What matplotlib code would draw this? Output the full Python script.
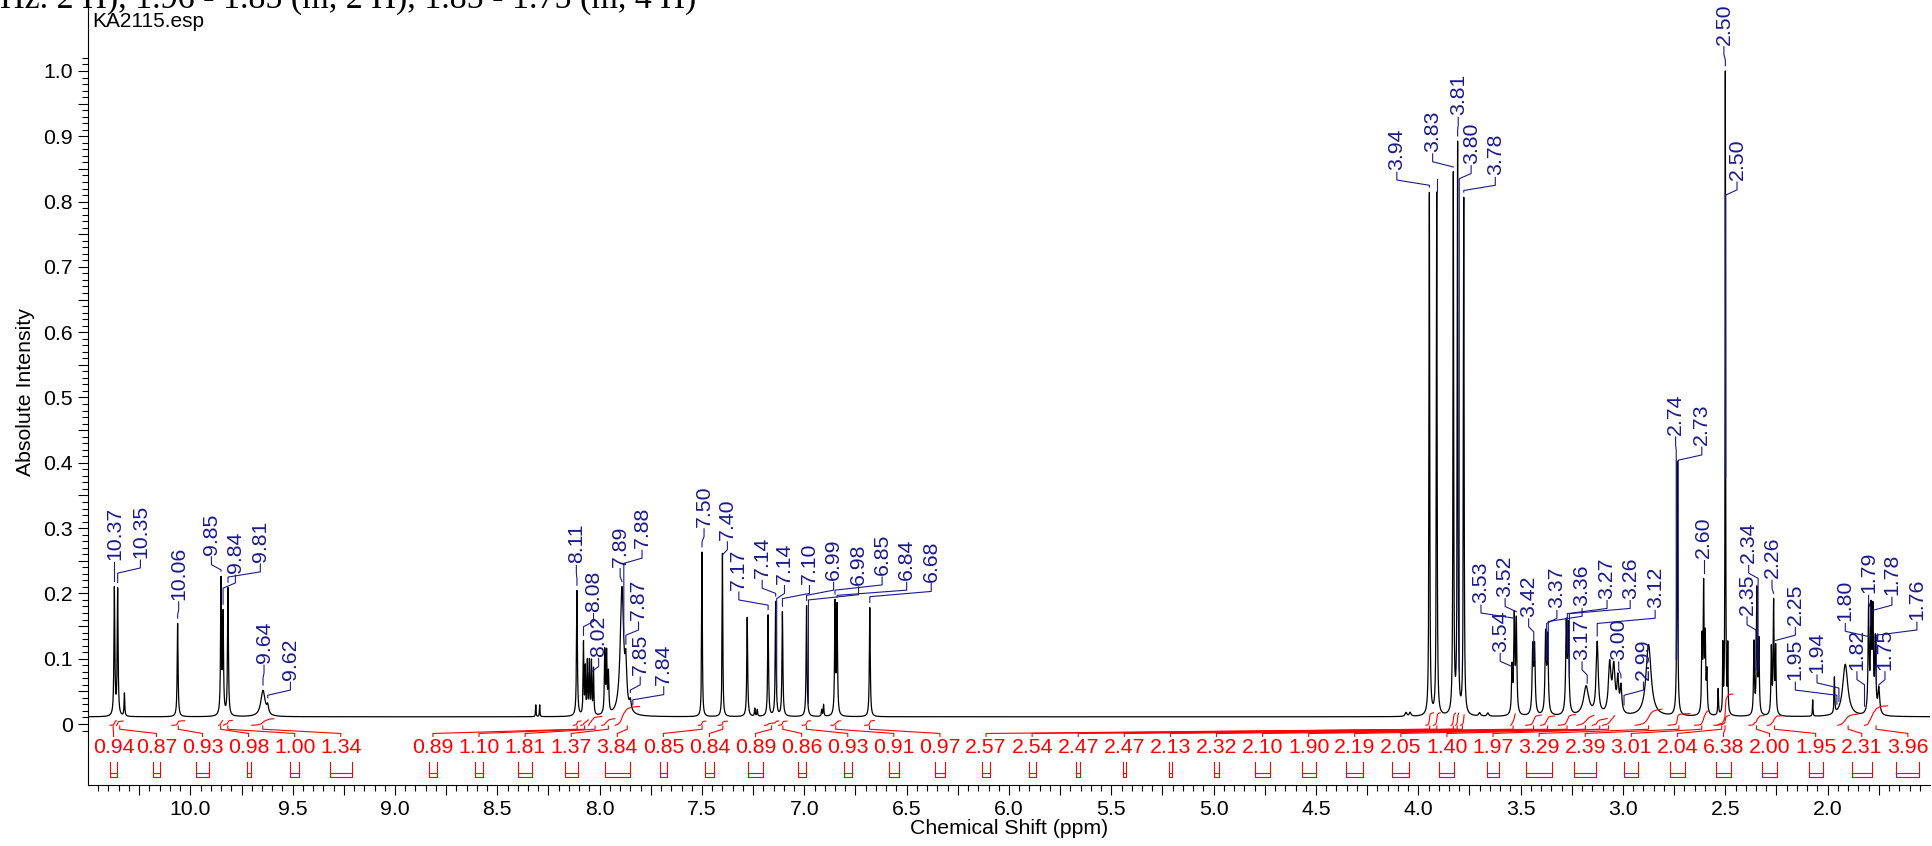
import numpy as np
import matplotlib.pyplot as plt
from matplotlib.ticker import FixedLocator, FuncFormatter

plt.rcParams['font.family'] = ['Liberation Sans', 'DejaVu Sans']

BLUE = '#1a1a8e'
RED = '#ff0000'
FS = 15.3

# spectrum peaks: position (ppm), height above baseline, width (ppm)
peak_ppm = [10.371, 10.355, 10.322, 10.062, 9.850, 9.840, 9.816, 9.645, 9.622,
            8.312, 8.293, 8.111, 8.079, 8.070, 8.060, 8.050, 8.040, 8.030,
            7.975, 7.966, 7.957, 7.891, 7.872, 7.850,
            7.500, 7.400, 7.279, 7.242, 7.230, 7.177, 7.140, 7.107, 6.989,
            6.915, 6.906, 6.850, 6.840, 6.680,
            4.060, 4.040, 3.700, 3.660,
            3.946, 3.910, 3.829, 3.808, 3.778,
            3.542, 3.531, 3.521, 3.441, 3.432, 3.378, 3.368, 3.277, 3.267,
            3.180, 3.126, 3.065, 3.045, 3.025, 3.010, 2.875, 2.735,
            2.614, 2.606, 2.598, 2.590, 2.535, 2.512, 2.500, 2.488,
            2.360, 2.346, 2.336, 2.275, 2.264, 2.254, 2.073, 1.967, 1.914,
            1.800, 1.788, 1.779, 1.767, 1.750]
peak_height = [0.195, 0.193, 0.035, 0.143, 0.205, 0.150, 0.195, 0.040, 0.012,
               0.018, 0.018, 0.192, 0.110, 0.070, 0.080, 0.080, 0.080, 0.070,
               0.095, 0.090, 0.060, 0.195, 0.060, 0.015,
               0.252, 0.250, 0.152, 0.012, 0.010, 0.155, 0.175, 0.160, 0.170,
               0.010, 0.018, 0.170, 0.165, 0.167,
               0.006, 0.006, 0.005, 0.005,
               0.800, 0.800, 0.825, 0.870, 0.790,
               0.070, 0.145, 0.140, 0.100, 0.100, 0.120, 0.115, 0.135, 0.130,
               0.045, 0.110, 0.075, 0.070, 0.050, 0.040, 0.110, 0.390,
               0.110, 0.190, 0.110, 0.060, 0.040, 0.100, 0.985, 0.100,
               0.110, 0.190, 0.110, 0.100, 0.170, 0.100, 0.025, 0.055, 0.080,
               0.160, 0.150, 0.150, 0.110, 0.040]
peak_fwhm = [0.005, 0.005, 0.004, 0.005, 0.005, 0.005, 0.005, 0.025, 0.010,
             0.003, 0.003, 0.005, 0.004, 0.004, 0.004, 0.004, 0.004, 0.004,
             0.005, 0.005, 0.005, 0.020, 0.010, 0.010,
             0.004, 0.004, 0.005, 0.004, 0.004, 0.005, 0.005, 0.005, 0.005,
             0.004, 0.004, 0.005, 0.005, 0.005,
             0.010, 0.010, 0.010, 0.010,
             0.004, 0.004, 0.004, 0.004, 0.004,
             0.006, 0.006, 0.006, 0.007, 0.007, 0.007, 0.007, 0.007, 0.007,
             0.030, 0.012, 0.015, 0.015, 0.010, 0.010, 0.030, 0.005,
             0.005, 0.005, 0.005, 0.005, 0.004, 0.003, 0.003, 0.003,
             0.005, 0.005, 0.005, 0.005, 0.005, 0.005, 0.003, 0.004, 0.030,
             0.006, 0.006, 0.006, 0.006, 0.010]
baseline_level = 0.011

# peak labels: text, peak ppm, label ppm, label bottom (intensity)
label_text = ['10.37', '10.35', '10.06', '9.85', '9.84', '9.81', '9.64', '9.62',
              '8.11', '8.08', '8.02', '7.89', '7.88', '7.87', '7.85', '7.84',
              '7.50', '7.40', '7.17', '7.14', '7.14', '7.10', '6.99', '6.98',
              '6.85', '6.84', '6.68',
              '3.94', '', '3.83', '3.81', '3.80', '3.78',
              '3.54', '3.53', '3.52', '3.42', '3.37', '3.36', '3.17', '3.27',
              '3.26', '3.00', '3.12', '2.99', '2.74', '2.73', '2.60', '2.50',
              '2.50', '2.35', '2.34', '2.26', '2.25', '1.95', '1.94', '1.80',
              '1.82', '1.79', '1.78', '1.76', '1.75']
label_peak = [10.371, 10.355, 10.062, 9.850, 9.840, 9.816, 9.645, 9.622,
              8.111, 8.079, 8.040, 7.891, 7.882, 7.872, 7.850, 7.838,
              7.500, 7.400, 7.177, 7.140, 7.135, 7.107, 6.989, 6.980,
              6.850, 6.840, 6.680,
              3.946, 3.910, 3.829, 3.808, 3.800, 3.778,
              3.542, 3.531, 3.521, 3.436, 3.373, 3.365, 3.175, 3.272,
              3.262, 3.010, 3.126, 2.995, 2.740, 2.730, 2.606, 2.500,
              2.498, 2.350, 2.340, 2.264, 2.254, 1.955, 1.945, 1.800,
              1.820, 1.790, 1.780, 1.762, 1.750]
label_pos = [10.371, 10.244, 10.057, 9.897, 9.780, 9.658, 9.640, 9.511,
             8.114, 8.030, 8.005, 7.900, 7.793, 7.810, 7.802, 7.687,
             7.490, 7.376, 7.320, 7.206, 7.097, 6.975, 6.857, 6.735,
             6.620, 6.500, 6.380,
             4.105, 3.910, 3.930, 3.805, 3.742, 3.624,
             3.600, 3.694, 3.576, 3.461, 3.323, 3.200, 3.200, 3.078,
             2.965, 3.021, 2.843, 2.900, 2.743, 2.615, 2.606, 2.507,
             2.443, 2.394, 2.386, 2.272, 2.158, 2.158, 2.052, 1.914,
             1.857, 1.800, 1.686, 1.564, 1.720]
label_bottom = [0.251, 0.254, 0.190, 0.259, 0.231, 0.248, 0.093, 0.067,
                0.246, 0.172, 0.103, 0.241, 0.269, 0.159, 0.075, 0.060,
                0.302, 0.282, 0.205, 0.223, 0.215, 0.215, 0.220, 0.213,
                0.228, 0.220, 0.218,
                0.848, 0.838, 0.876, 0.932, 0.858, 0.840,
                0.111, 0.185, 0.195, 0.164, 0.177, 0.180, 0.098, 0.192,
                0.192, 0.098, 0.177, 0.067, 0.4425, 0.427, 0.254, 1.040,
                0.833, 0.167, 0.246, 0.223, 0.151, 0.067, 0.078, 0.157,
                0.083, 0.200, 0.197, 0.159, 0.083]

# integrals: value, label slot, range (from, to) in ppm
int_text = ['0.94', '0.87', '0.93', '0.98', '1.00', '1.34',
            '0.89', '1.10', '1.81', '1.37', '3.84', '0.85', '0.84', '0.89',
            '0.86', '0.93', '0.91', '0.97', '2.57', '2.54', '2.47', '2.47',
            '2.13', '2.32', '2.10', '1.90', '2.19', '2.05', '1.40', '1.97',
            '3.29', '2.39', '3.01', '2.04', '6.38', '2.00', '1.95', '2.31', '3.96']
int_slot = [0.07, 1, 2, 3, 4, 5] + list(range(7, 40))
int_from = [10.392, 10.362, 10.090, 9.862, 9.838, 9.700,
            8.128, 8.092, 8.055, 7.990, 7.925, 7.518, 7.420, 7.195,
            7.125, 7.010, 6.870, 6.705, 3.963, 3.926, 3.840, 3.818,
            3.793, 3.548, 3.475, 3.402, 3.315, 3.225, 3.150, 3.100,
            2.940, 2.780, 2.650, 2.555, 2.540, 2.385, 2.295, 1.950, 1.820]
int_to = [10.362, 10.328, 10.028, 9.842, 9.795, 9.592,
          8.092, 8.055, 7.990, 7.925, 7.805, 7.481, 7.376, 7.125,
          7.085, 6.970, 6.823, 6.658, 3.926, 3.893, 3.818, 3.803,
          3.776, 3.526, 3.399, 3.334, 3.232, 3.142, 3.077, 3.041,
          2.810, 2.674, 2.580, 2.480, 2.463, 2.311, 2.225, 1.850, 1.707]

x = np.arange(1.5, 10.5, 0.0002)
y = np.full_like(x, baseline_level)
for p, h, w in zip(peak_ppm, peak_height, peak_fwhm):
    y += h / (1.0 + ((x - p) / (w / 2.0)) ** 2)

W, H = 1933, 846
fig = plt.figure(figsize=(W / 100, H / 100), dpi=100)
ax = fig.add_axes([88 / W, (H - 785) / H, (1930 - 88) / W, 785 / H])
ax.set_xlim(10.5, 1.5)
ax.set_ylim(-0.0934, 1.1087)

ax.plot(x, y, color='black', lw=0.9)

# peak labels with leader lines
for txt, pk, pos, bot in zip(label_text, label_peak, label_pos, label_bottom):
    if txt:
        ax.text(pos, bot, txt, rotation=90, ha='center', va='bottom', color=BLUE, fontsize=FS)
    top = bot - 0.003
    y1 = top - 0.012
    y2 = y1 - 0.008
    y3 = min(y2, np.interp(pk, x, y) + 0.008)
    ax.plot([pos, pos, pk, pk], [top, y1, y2, y3], color=BLUE, lw=0.8)

# integrals
for txt, slot, a, b in zip(int_text, int_slot, int_from, int_to):
    lab = 10.391 - 0.2252 * slot
    m = (x >= b) & (x <= a)
    xs = x[m][::-1]
    cum = np.cumsum(y[m][::-1] - baseline_level)
    cum = cum / cum[-1]
    ax.plot(xs, -0.002 + 0.0075 * float(txt) * cum, color=RED, lw=0.8)
    xc = (a + b) / 2
    ax.plot([xc, xc, lab, lab], [-0.003, -0.008, -0.0145, -0.019], color=RED, lw=0.8)
    ax.text(lab, -0.0367, txt, ha='center', va='center', color=RED, fontsize=FS)
    hw = (a - b) / 2
    ax.plot([lab + hw, lab + hw, lab - hw, lab - hw], [-0.058, -0.081, -0.081, -0.058],
            color=RED, lw=0.8)
    ax.plot([lab + hw, lab - hw], [-0.0745, -0.0745], color=RED, lw=0.8)

# axes styling
for s in ['top', 'right']:
    ax.spines[s].set_visible(False)
ax.spines['left'].set_linewidth(0.8)
ax.spines['bottom'].set_linewidth(0.8)

ax.xaxis.set_major_locator(FixedLocator(np.arange(10.25, 1.74, -0.25)))
ax.xaxis.set_minor_locator(FixedLocator(np.arange(10.45, 1.54, -0.05)))
ax.xaxis.set_major_formatter(FuncFormatter(
    lambda v, p: '%.1f' % v if abs(v * 2 - round(v * 2)) < 1e-6 else ''))
ax.yaxis.set_major_locator(FixedLocator(np.arange(0, 1.001, 0.05)))
ax.yaxis.set_minor_locator(FixedLocator(np.arange(-0.01, 1.025, 0.01)))
ax.yaxis.set_major_formatter(FuncFormatter(
    lambda v, p: ('0' if abs(v) < 1e-6 else '%.1f' % v) if abs(v * 10 - round(v * 10)) < 1e-6 else ''))
ax.tick_params(axis='both', which='major', length=7, width=0.8, labelsize=FS, pad=4)
ax.tick_params(axis='both', which='minor', length=4, width=0.8)

ax.set_xlabel('Chemical Shift (ppm)', fontsize=FS, labelpad=0)
ax.set_ylabel('Absolute Intensity', fontsize=FS, labelpad=6)

fig.text(92 / W, 1 - 12 / H, 'KA2115.esp', va='top', ha='left', fontsize=15)
fig.text(0, 1 - 7.3 / H, 'Hz. 2 H), 1.96 - 1.85 (m, 2 H), 1.85 - 1.75 (m, 4 H)',
         va='baseline', ha='left', fontsize=24.5, family='Liberation Serif')

fig.savefig('out.png', dpi=100)
